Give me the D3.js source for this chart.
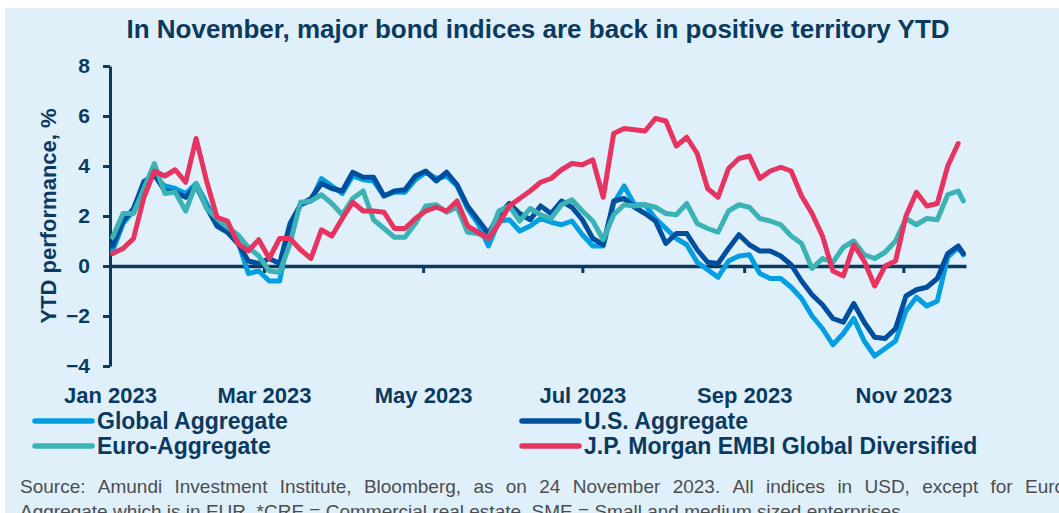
<!DOCTYPE html>
<html>
<head>
<meta charset="utf-8">
<script src="https://cdn.jsdelivr.net/npm/d3@7"></script>
<style>
    body { margin: 0; background: #fff; }
    svg { display: block; }
    text { font-family: Arial, "Liberation Sans", sans-serif; }
</style>
</head>
<body>
<svg id="chart"></svg>
<script>
// values, one point every 4 days
const dates = [
    '2023-01-02', '2023-01-06', '2023-01-10', '2023-01-14', '2023-01-18', '2023-01-22', '2023-01-26', '2023-01-30',
    '2023-02-03', '2023-02-07', '2023-02-11', '2023-02-15', '2023-02-19', '2023-02-23', '2023-02-27',
    '2023-03-03', '2023-03-07', '2023-03-11', '2023-03-15', '2023-03-19', '2023-03-23', '2023-03-27', '2023-03-31',
    '2023-04-04', '2023-04-08', '2023-04-12', '2023-04-16', '2023-04-20', '2023-04-24', '2023-04-28',
    '2023-05-02', '2023-05-06', '2023-05-10', '2023-05-14', '2023-05-18', '2023-05-22', '2023-05-26', '2023-05-30',
    '2023-06-03', '2023-06-07', '2023-06-11', '2023-06-15', '2023-06-19', '2023-06-23', '2023-06-27',
    '2023-07-01', '2023-07-05', '2023-07-09', '2023-07-13', '2023-07-17', '2023-07-21', '2023-07-25', '2023-07-29',
    '2023-08-02', '2023-08-06', '2023-08-10', '2023-08-14', '2023-08-18', '2023-08-22', '2023-08-26', '2023-08-30',
    '2023-09-03', '2023-09-07', '2023-09-11', '2023-09-15', '2023-09-19', '2023-09-23', '2023-09-27',
    '2023-10-01', '2023-10-05', '2023-10-09', '2023-10-13', '2023-10-17', '2023-10-21', '2023-10-25', '2023-10-29',
    '2023-11-02', '2023-11-06', '2023-11-10', '2023-11-14', '2023-11-18', '2023-11-22', '2023-11-24'
];
const globalAggregate = [
    0.6, 1.7, 2.2, 3.4, 3.6, 3.2, 3.1, 2.9, 3.3, 2.5, 1.7, 1.4, 1.0, -0.3,
    -0.2, -0.6, -0.6, 1.5, 2.45, 2.6, 3.5, 3.2, 2.9, 3.6, 3.45, 3.4, 2.8, 2.95,
    2.95, 3.45, 3.75, 3.5, 3.6, 3.2, 2.3, 1.7, 0.8, 1.8, 1.85, 1.4, 1.6, 1.9,
    1.75, 1.65, 1.8, 1.25, 0.8, 0.8, 2.5, 3.2, 2.45, 2.45, 1.9, 1.5, 1.1, 0.85,
    0.15, -0.15, -0.45, 0.2, 0.4, 0.45, -0.3, -0.5, -0.5, -0.85, -1.3, -2.0, -2.5,
    -3.15, -2.7, -2.1, -3.0, -3.6, -3.3, -3.0, -1.8, -1.25, -1.6, -1.4, 0.35, 0.75, 0.45
];
const usAggregate = [
    0.8, 1.8, 2.3, 3.35, 3.65, 3.0, 2.95, 2.75, 3.2, 2.35, 1.6, 1.35, 0.9, 0.2,
    0.1, 0.3, 0.1, 1.7, 2.45, 2.7, 3.3, 3.1, 3.0, 3.75, 3.55, 3.55, 2.8, 3.0,
    3.05, 3.6, 3.8, 3.4, 3.75, 3.25, 2.4, 1.85, 1.3, 2.05, 2.5, 2.1, 1.85, 2.4,
    2.1, 2.6, 2.35, 1.85, 1.1, 0.85, 2.6, 2.7, 2.35, 2.1, 1.8, 0.9, 1.3, 1.3,
    0.65, 0.15, 0.1, 0.7, 1.25, 0.85, 0.6, 0.6, 0.4, 0.05, -0.6, -1.15, -1.55,
    -2.1, -2.25, -1.5, -2.25, -2.85, -2.9, -2.5, -1.2, -0.95, -0.85, -0.5, 0.5, 0.8, 0.5
];
const euroAggregate = [
    1.15, 2.1, 2.1, 3.1, 4.1, 2.9, 2.95, 2.2, 3.3, 2.3, 1.9, 1.55, 1.25, 0.75,
    0.4, -0.2, -0.25, 0.9, 2.55, 2.6, 2.85, 2.5, 2.05, 2.7, 3.0, 1.85, 1.5, 1.15,
    1.15, 1.7, 2.4, 2.45, 2.15, 2.35, 1.35, 1.3, 1.1, 2.2, 2.4, 1.8, 2.3, 2.05,
    1.9, 2.45, 2.65, 2.2, 1.8, 1.05, 2.05, 2.45, 2.4, 2.45, 2.35, 2.1, 2.05, 2.5,
    1.7, 1.5, 1.35, 2.2, 2.45, 2.35, 1.9, 1.8, 1.65, 1.2, 0.9, -0.1, 0.3,
    0.15, 0.75, 1.0, 0.45, 0.3, 0.55, 1.0, 1.9, 1.65, 1.9, 1.85, 2.85, 3.0, 2.6
];
const embiGlobalDiversified = [
    0.5, 0.7, 1.1, 2.75, 3.8, 3.6, 3.85, 3.35, 5.1, 3.4, 1.95, 1.8, 0.9, 0.6,
    1.05, 0.3, 1.1, 1.1, 0.65, 0.3, 1.45, 1.2, 1.9, 2.55, 2.2, 2.2, 2.15, 1.5,
    1.5, 1.9, 2.2, 2.35, 2.2, 2.6, 1.6, 1.35, 1.1, 1.7, 2.4, 2.7, 3.0, 3.35,
    3.5, 3.85, 4.1, 4.05, 4.25, 2.75, 5.3, 5.5, 5.45, 5.4, 5.9, 5.8, 4.8, 5.15,
    4.5, 3.1, 2.75, 3.9, 4.3, 4.4, 3.5, 3.8, 3.95, 3.8, 2.8, 2.1, 1.2,
    -0.2, -0.4, 0.85, 0.2, -0.8, 0.0, 0.2, 2.0, 2.95, 2.4, 2.5, 4.0, 4.9, null
];
const seriesNames = ['Global Aggregate', 'U.S. Aggregate', 'Euro-Aggregate', 'J.P. Morgan EMBI Global Diversified'];
const seriesColors = ['#039fe2', '#004f9e', '#3bb3b5', '#e6335f'];
const yTicks = [-4, -2, 0, 2, 4, 6, 8];
const titleText = 'In November, major bond indices are back in positive territory YTD';
const yTitle = 'YTD performance, %';
const sourceLine1 = ['Source:', 'Amundi', 'Investment', 'Institute,', 'Bloomberg,', 'as', 'on', '24', 'November',
    '2023.', 'All', 'indices', 'in', 'USD,', 'except', 'for', 'Euro-'];
const sourceLine2 = 'Aggregate which is in EUR. *CRE = Commercial real estate, SME = Small and medium sized enterprises';

let width = 1059;
let height = 513;
let navy = '#0b3a5e';
let config = {
    left: 110,
    right: 966,
    top: 66,
    bottom: 366
};

let svg = d3.select('#chart')
    .attr('width', width)
    .attr('height', height);

// light blue panel
svg.append('rect')
    .attr('x', 5).attr('y', 8)
    .attr('width', width).attr('height', height)
    .attr('fill', '#dff0fb');

svg.append('text')
    .attr('x', 538).attr('y', 38)
    .attr('text-anchor', 'middle')
    .style('font-size', '26px').style('font-weight', 'bold')
    .attr('fill', navy)
    .text(titleText);

let parse = d3.timeParse('%Y-%m-%d');
let days = dates.map(parse);

let xScale = d3.scaleTime()
    .domain([new Date(2023, 0, 1), new Date(2023, 10, 25)])
    .range([config.left, config.right]);
let yScale = d3.scaleLinear()
    .domain([-4, 8])
    .range([config.bottom, config.top]);

// y axis
let yAx = svg.append('g')
    .attr('transform', `translate(${config.left},0)`)
    .call(d3.axisLeft(yScale).tickValues(yTicks).tickSize(7).tickSizeOuter(0).tickPadding(13));
yAx.select('.domain').attr('stroke', navy).attr('stroke-width', 3);
yAx.selectAll('.tick line').attr('stroke', navy).attr('stroke-width', 3);
yAx.selectAll('.tick text')
    .attr('fill', navy)
    .style('font-size', '21px').style('font-weight', 'bold')
    .style('font-family', 'Arial, "Liberation Sans", sans-serif');

svg.append('text')
    .attr('transform', 'rotate(-90)')
    .attr('x', -216).attr('y', 56)
    .attr('text-anchor', 'middle')
    .style('font-size', '22px').style('font-weight', 'bold')
    .attr('fill', navy)
    .text(yTitle);

// month labels under the plot
let xLabels = svg.append('g')
    .attr('transform', `translate(0,${config.bottom})`)
    .call(d3.axisBottom(xScale).ticks(d3.timeMonth.every(2)).tickFormat(d3.timeFormat('%b %Y')).tickSize(0).tickPadding(21));
xLabels.select('.domain').remove();
xLabels.selectAll('text')
    .attr('fill', navy)
    .style('font-size', '22px').style('font-weight', 'bold')
    .style('font-family', 'Arial, "Liberation Sans", sans-serif');

// zero line with the month ticks
let zeroAx = svg.append('g')
    .attr('transform', `translate(0,${yScale(0)})`)
    .call(d3.axisBottom(xScale).ticks(d3.timeMonth.every(2)).tickFormat('').tickSize(7).tickSizeOuter(0));
zeroAx.select('.domain').attr('stroke', navy).attr('stroke-width', 3.5);
zeroAx.selectAll('.tick line').attr('stroke', navy).attr('stroke-width', 3);

let allSeries = [globalAggregate, usAggregate, euroAggregate, embiGlobalDiversified];
let line = d3.line()
    .defined(d => d.v != null)
    .x(d => xScale(d.t))
    .y(d => yScale(d.v));

allSeries.forEach((values, i) => {
    svg.append('path')
        .datum(values.map((v, j) => ({ t: days[j], v: v })))
        .attr('d', line)
        .attr('fill', 'none')
        .attr('stroke', seriesColors[i])
        .attr('stroke-width', 5)
        .attr('stroke-linejoin', 'round')
        .attr('stroke-linecap', 'round');
});

// legend, two columns
let legendPos = [[33, 421], [520, 421], [33, 446], [520, 446]];
seriesNames.forEach((name, i) => {
    let g = svg.append('g')
        .attr('transform', `translate(${legendPos[i][0]},${legendPos[i][1]})`);
    g.append('line')
        .attr('x1', 2).attr('x2', 59)
        .attr('stroke', seriesColors[i])
        .attr('stroke-width', 5.5)
        .attr('stroke-linecap', 'round');
    g.append('text')
        .attr('x', 64).attr('y', 8)
        .style('font-size', '23px').style('font-weight', 'bold')
        .attr('fill', navy)
        .text(name);
});

// source note, first line justified
let src = svg.append('g').attr('fill', '#4d4d4d').style('font-size', '19px');
let words = sourceLine1.map(w => src.append('text').attr('y', 493).text(w));
let widths = words.map(t => t.node().getComputedTextLength());
let lastStart = 1025;
let gap = (lastStart - 20 - d3.sum(widths.slice(0, -1))) / (words.length - 1);
let xPos = 20;
words.forEach((t, i) => {
    t.attr('x', xPos);
    xPos += widths[i] + gap;
});
src.append('text')
    .attr('x', 20).attr('y', 518)
    .text(sourceLine2);
</script>
</body>
</html>
